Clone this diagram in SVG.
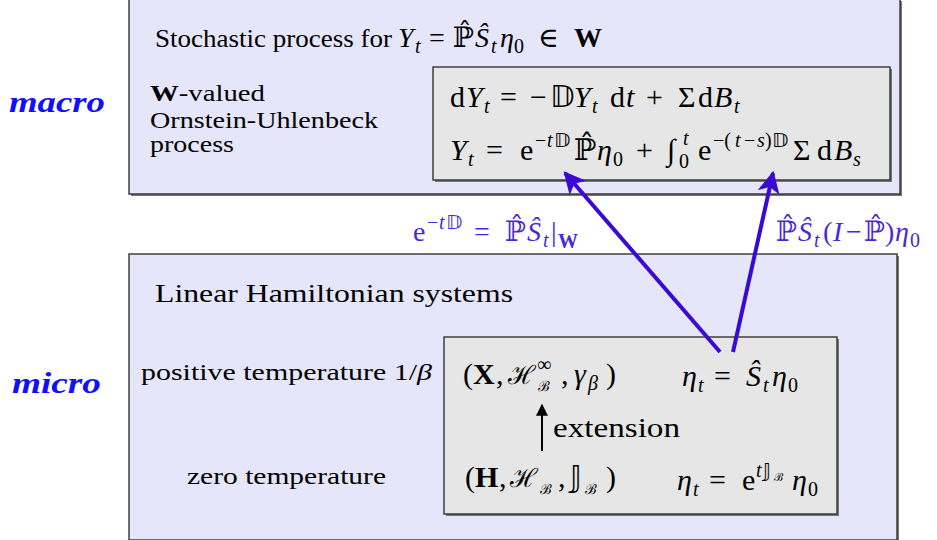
<svg xmlns="http://www.w3.org/2000/svg" width="937" height="540" viewBox="0 0 937 540">
<style>
.t{font-family:"Liberation Serif","DejaVu Serif",serif;fill:#000}
.i{font-style:italic}
.b{font-weight:bold}
.ds{font-family:"DejaVu Sans",sans-serif;font-style:normal}
.sc{font-family:"DejaVu Serif",serif;font-style:normal}
.m{font-size:30px}
.s{font-size:20px}
.lbl{fill:#4a28d8}
.side{font-family:"Liberation Serif","DejaVu Serif",serif;font-size:30px;font-weight:bold;font-style:italic;fill:#1010ff}
.outer{fill:#e6e6fb;stroke:#333;stroke-width:1.4}
.inner{fill:#e6e6e6;stroke:#333;stroke-width:1.4}
.shadow{fill:#777}
.conn{stroke:#3a0ad4;stroke-width:4;fill:none}
</style>
<defs>
<marker id="ah" viewBox="0 0 10 10" refX="9" refY="5" markerWidth="5.5" markerHeight="5.5" orient="auto" markerUnits="strokeWidth">
<path d="M0,0 L10,5 L0,10 L2.5,5 Z" fill="#3a0ad4"/>
</marker>
<marker id="ahk" viewBox="0 0 10 10" refX="9" refY="5" markerWidth="6" markerHeight="6" orient="auto" markerUnits="strokeWidth">
<path d="M0,0 L10,5 L0,10 Z" fill="#000"/>
</marker>
</defs>

<text class="side" x="9" y="112" textLength="96" lengthAdjust="spacingAndGlyphs">macro</text>
<text class="side" x="12" y="393" textLength="89" lengthAdjust="spacingAndGlyphs">micro</text>

<g id="macro-box">
<rect class="shadow" x="131" y="1" width="771" height="195"/>
<rect class="outer" x="129" y="-1" width="771" height="195"/>
<text class="t" x="155" y="47" font-size="25" textLength="237" lengthAdjust="spacingAndGlyphs">Stochastic process for</text>
<text class="t" font-size="28"><tspan class="i" x="398" y="47">Y</tspan><tspan class="i s" x="415" y="53">t</tspan><tspan x="429" y="47">=</tspan><tspan x="453" y="47">ℙ̂</tspan><tspan class="i" x="475" y="47">Ŝ</tspan><tspan class="i s" x="491" y="53">t</tspan><tspan class="i" x="500" y="47">η</tspan><tspan class="s" x="514" y="53">0</tspan><tspan x="538" y="47">∈</tspan><tspan class="b" x="574" y="47">W</tspan></text>
<text class="t" x="150" y="101" font-size="23" textLength="115" lengthAdjust="spacingAndGlyphs"><tspan class="b">W</tspan>-valued</text>
<text class="t" x="150" y="128" font-size="23" textLength="228" lengthAdjust="spacingAndGlyphs">Ornstein-Uhlenbeck</text>
<text class="t" x="150" y="152" font-size="23" textLength="84" lengthAdjust="spacingAndGlyphs">process</text>
</g>

<g id="ou-formula">
<rect class="shadow" x="435" y="69" width="457" height="113"/>
<rect class="inner" x="433" y="67" width="457" height="113"/>
<text class="t m"><tspan x="450" y="107">d</tspan><tspan class="i" x="466" y="107">Y</tspan><tspan class="i s" x="484" y="113">t</tspan><tspan x="500" y="107">=</tspan><tspan x="530" y="107">−</tspan><tspan class="ds" x="550" y="107">𝔻</tspan><tspan class="i" x="574" y="107">Y</tspan><tspan class="i s" x="592" y="113">t</tspan><tspan x="610" y="107">d</tspan><tspan class="i" x="626" y="107">t</tspan><tspan x="646" y="107">+</tspan><tspan x="678" y="107">Σ</tspan><tspan x="698" y="107">d</tspan><tspan class="i" x="714" y="107">B</tspan><tspan class="i s" x="734" y="113">t</tspan></text>
<text class="t m"><tspan class="i" x="450" y="160">Y</tspan><tspan class="i s" x="468" y="166">t</tspan><tspan x="486" y="160">=</tspan><tspan x="520" y="160">e</tspan><tspan class="s" x="535" y="147">−</tspan><tspan class="i s" x="547" y="147">t</tspan><tspan class="ds s" x="554" y="147">𝔻</tspan><tspan x="574" y="160">ℙ̂</tspan><tspan class="i" x="597" y="160">η</tspan><tspan class="s" x="613" y="166">0</tspan><tspan x="636" y="160">+</tspan><tspan x="667" y="160">∫</tspan><tspan class="s" x="679" y="168">0</tspan><tspan class="i s" x="683" y="145">t</tspan><tspan x="698" y="160">e</tspan><tspan class="s" x="713" y="147">−(</tspan><tspan class="i s" x="735" y="147">t</tspan><tspan class="s" x="744" y="147">−</tspan><tspan class="i s" x="757" y="147">s</tspan><tspan class="s" x="765" y="147">)</tspan><tspan class="ds s" x="772" y="147">𝔻</tspan><tspan x="793" y="160">Σ</tspan><tspan x="817" y="160">d</tspan><tspan class="i" x="834" y="160">B</tspan><tspan class="i s" x="853" y="166">s</tspan></text>
</g>

<g id="micro-box">
<rect class="shadow" x="131" y="256" width="768" height="286"/>
<rect class="outer" x="129" y="254" width="768" height="286"/>
<text class="t" x="155" y="302" font-size="25" textLength="358" lengthAdjust="spacingAndGlyphs">Linear Hamiltonian systems</text>
<text class="t" x="141" y="380" font-size="23" textLength="291" lengthAdjust="spacingAndGlyphs">positive temperature 1/<tspan class="i">β</tspan></text>
<text class="t" x="187" y="484" font-size="23" textLength="199" lengthAdjust="spacingAndGlyphs">zero temperature</text>
</g>

<g id="hamiltonian">
<rect class="shadow" x="446" y="339" width="393" height="177"/>
<rect class="inner" x="444" y="337" width="393" height="177"/>
<text class="t m"><tspan x="463" y="384">(</tspan><tspan class="b" x="473" y="384">X</tspan><tspan x="496" y="384">,</tspan><tspan class="sc" font-size="26" x="508" y="384">ℋ</tspan><tspan class="s" x="537" y="371">∞</tspan><tspan class="sc" font-size="14" x="538" y="391">ℬ</tspan><tspan x="561" y="384">,</tspan><tspan class="i" x="574" y="384">γ</tspan><tspan class="i s" x="588" y="390">β</tspan><tspan x="606" y="384">)</tspan></text>
<text class="t m"><tspan class="i" x="682" y="386">η</tspan><tspan class="i s" x="698" y="392">t</tspan><tspan x="714" y="386">=</tspan><tspan class="i" x="746" y="386">Ŝ</tspan><tspan class="i s" x="763" y="392">t</tspan><tspan class="i" x="772" y="386">η</tspan><tspan class="s" x="788" y="392">0</tspan></text>
<line x1="542" y1="451" x2="542" y2="405" stroke="#000" stroke-width="2" marker-end="url(#ahk)"/>
<text class="t" x="553" y="437" font-size="28" textLength="127" lengthAdjust="spacingAndGlyphs">extension</text>
<text class="t m"><tspan x="465" y="487">(</tspan><tspan class="b" x="475" y="487">H</tspan><tspan x="499" y="487">,</tspan><tspan class="sc" font-size="26" x="510" y="487">ℋ</tspan><tspan class="sc" font-size="14" x="540" y="494">ℬ</tspan><tspan x="558" y="487">,</tspan><tspan class="ds" x="570" y="487">𝕁</tspan><tspan class="sc" font-size="14" x="585" y="494">ℬ</tspan><tspan x="606" y="487">)</tspan></text>
<text class="t m"><tspan class="i" x="677" y="490">η</tspan><tspan class="i s" x="693" y="496">t</tspan><tspan x="709" y="490">=</tspan><tspan x="742" y="490">e</tspan><tspan class="i s" x="756" y="477">t</tspan><tspan class="ds s" x="763" y="477">𝕁</tspan><tspan class="sc" font-size="11" x="774" y="481">ℬ</tspan><tspan class="i" x="792" y="490">η</tspan><tspan class="s" x="808" y="496">0</tspan></text>
</g>

<g id="connectors">
<line class="conn" x1="720" y1="352" x2="565" y2="173" marker-end="url(#ah)"/>
<line class="conn" x1="733" y1="352" x2="773" y2="173" marker-end="url(#ah)"/>
<text class="t lbl" font-size="28"><tspan x="413" y="241">e</tspan><tspan class="s" x="427" y="229">−</tspan><tspan class="i s" x="439" y="229">t</tspan><tspan class="ds s" x="446" y="229">𝔻</tspan><tspan x="474" y="241">=</tspan><tspan x="505" y="241">ℙ̂</tspan><tspan class="i" x="527" y="241">Ŝ</tspan><tspan class="i s" x="543" y="247">t</tspan><tspan x="551" y="241">|</tspan><tspan class="b" font-size="20" x="558" y="248">W</tspan></text>
<text class="t lbl" font-size="28"><tspan x="776" y="241">ℙ̂</tspan><tspan class="i" x="798" y="241">Ŝ</tspan><tspan class="i s" x="814" y="247">t</tspan><tspan x="823" y="241">(</tspan><tspan class="i" x="833" y="241">I</tspan><tspan x="846" y="241">−</tspan><tspan x="864" y="241">ℙ̂</tspan><tspan x="885" y="241">)</tspan><tspan class="i" x="895" y="241">η</tspan><tspan class="s" x="910" y="247">0</tspan></text>
</g>
</svg>
